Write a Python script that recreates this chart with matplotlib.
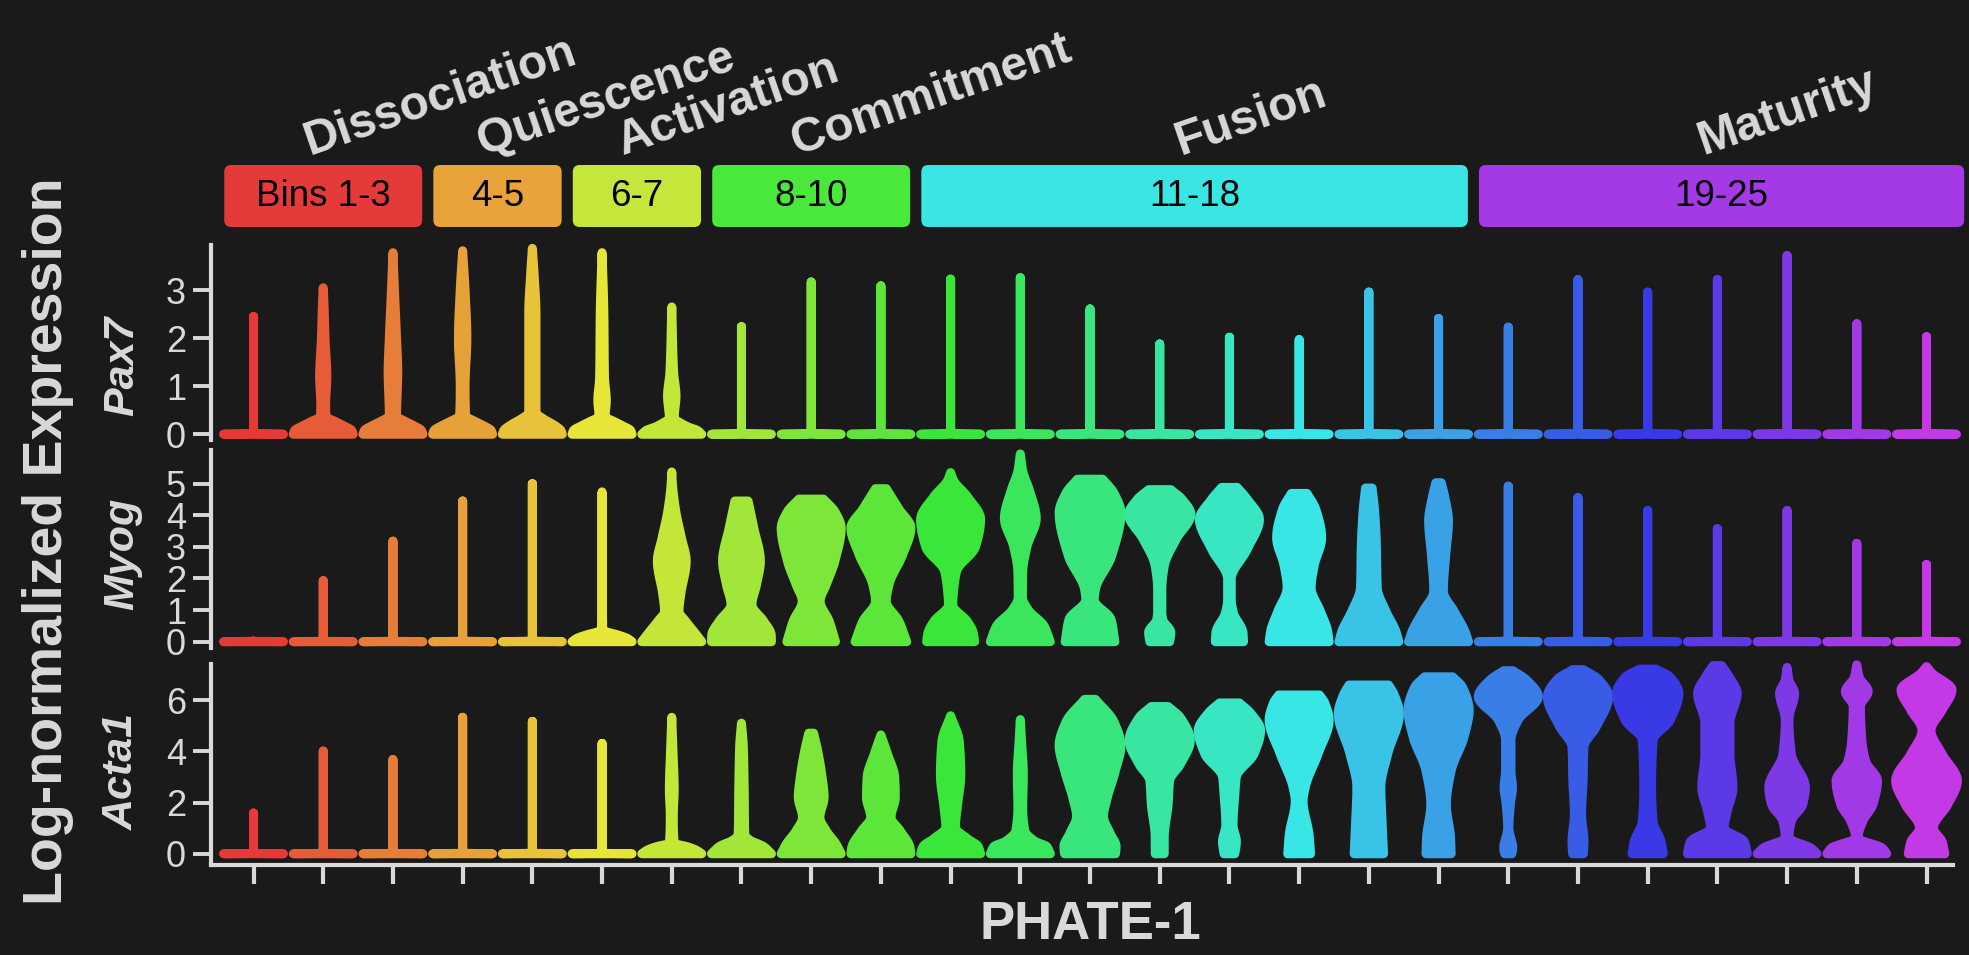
# Violin panels of Pax7 / Myog / Acta1 along PHATE-1 bins

import numpy as np
import matplotlib.pyplot as plt
import matplotlib.colors as mcolors
from matplotlib.patches import Polygon, FancyBboxPatch

plt.rcParams['font.family'] = ['Liberation Sans', 'DejaVu Sans']

BG = '#1a1a1a'
FG = '#d9d9d9'

bins = list(range(1, 26))

# stage header
stages = ['Dissociation', 'Quiescence', 'Activation', 'Commitment', 'Fusion', 'Maturity']
stage_bins = [(1, 3), (4, 5), (6, 7), (8, 10), (11, 18), (19, 25)]
stage_text = ['Bins 1-3', '4-5', '6-7', '8-10', '11-18', '19-25']
stage_colors = ['#e53a3a', '#e8a33a', '#c5e63a', '#4ae83a', '#3ae6e3', '#a43ae6']

genes = ['Pax7', 'Myog', 'Acta1']
gene_ticks = [[0, 1, 2, 3], [0, 1, 2, 3, 4, 5], [0, 2, 4, 6]]

# max expression per bin (violin tops)
pax7_top = [2.45, 3.05, 3.78, 3.82, 3.87, 3.78, 2.65, 2.24, 3.17, 3.09, 3.23, 3.26, 2.61,
            1.88, 2.02, 1.97, 2.96, 2.41, 2.23, 3.22, 2.96, 3.22, 3.72, 2.30, 2.03]
myog_top = [0.0, 1.93, 3.18, 4.45, 5.00, 4.74, 5.37, 4.45, 4.51, 4.84, 5.35, 5.94, 5.14,
            4.81, 4.88, 4.69, 4.86, 5.03, 4.92, 4.56, 4.15, 3.57, 4.15, 3.11, 2.44]
acta1_top = [1.59, 4.01, 3.68, 5.33, 5.17, 4.31, 5.33, 5.10, 4.71, 4.64, 5.39, 5.24, 6.03,
             5.75, 5.89, 6.20, 6.59, 6.91, 7.15, 7.19, 7.21, 7.35, 7.28, 7.38, 7.31]

# density outlines (expression, relative half-width) for the bins that are not plain sticks
pax7_shape = {
    2: [(0, 1), (0.08, 0.95), (0.17, 0.7), (0.28, 0.35), (0.36, 0.1), (0.6, 0.08), (1.2, 0.12), (2.0, 0.06), (2.8, 0.02), (3.05, 0)],
    3: [(0, 1), (0.08, 0.95), (0.17, 0.72), (0.28, 0.37), (0.38, 0.12), (1.3, 0.16), (2.0, 0.12), (3.0, 0.05), (3.78, 0)],
    4: [(0, 1), (0.08, 0.95), (0.17, 0.72), (0.28, 0.37), (0.38, 0.1), (1.0, 0.08), (2.0, 0.14), (3.0, 0.08), (3.82, 0)],
    5: [(0, 1), (0.08, 0.95), (0.2, 0.7), (0.32, 0.37), (0.45, 0.12), (1.5, 0.12), (2.5, 0.12), (3.3, 0.06), (3.87, 0)],
    6: [(0, 1), (0.08, 0.95), (0.17, 0.7), (0.28, 0.35), (0.36, 0.1), (0.7, 0.14), (1.2, 0.08), (2.5, 0.06), (3.78, 0)],
    7: [(0, 1), (0.08, 0.85), (0.15, 0.55), (0.25, 0.25), (0.32, 0.08), (0.8, 0.14), (1.3, 0.06), (2.65, 0)],
}
myog_shape = {
    6: [(0, 1), (0.1, 0.85), (0.22, 0.5), (0.32, 0.12), (0.38, 0.02), (4.74, 0)],
    7: [(0, 1), (0.33, 0.73), (0.65, 0.46), (0.96, 0.24), (1.5, 0.3), (2.55, 0.48), (3.29, 0.32), (4.14, 0.13), (5.0, 0.02), (5.37, 0)],
    8: [(0, 1), (0.22, 0.99), (0.65, 0.74), (1.17, 0.35), (1.8, 0.5), (2.55, 0.63), (3.6, 0.41), (4.45, 0.22)],
    9: [(0, 0.81), (0.65, 0.6), (1.28, 0.3), (1.8, 0.5), (2.55, 0.79), (3.6, 1.0), (4.1, 0.8), (4.51, 0.41)],
    10: [(0, 0.86), (0.65, 0.6), (1.28, 0.18), (1.8, 0.27), (2.76, 0.73), (3.6, 1.0), (4.2, 0.6), (4.84, 0.18)],
    11: [(0, 0.8), (0.3, 0.75), (0.65, 0.55), (1.17, 0.07), (1.6, 0.1), (2.23, 0.2), (3.0, 0.83), (3.87, 1.0), (4.6, 0.55), (5.1, 0.1), (5.35, 0)],
    12: [(0, 1.0), (0.5, 0.79), (1.0, 0.27), (1.4, 0.07), (2.2, 0.08), (3.0, 0.22), (3.9, 0.53), (4.8, 0.3), (5.4, 0.08), (5.94, 0)],
    13: [(0, 0.83), (0.7, 0.7), (1.33, 0.14), (1.65, 0.18), (2.71, 0.72), (4.08, 1.03), (4.7, 0.8), (5.14, 0.42)],
    14: [(0, 0.33), (0.29, 0.37), (0.7, 0.1), (0.92, 0.07), (1.65, 0.07), (2.39, 0.15), (3.24, 0.55), (4.03, 1.04), (4.5, 0.75), (4.81, 0.37)],
    15: [(0, 0.47), (0.29, 0.45), (0.92, 0.13), (1.33, 0.06), (1.97, 0.06), (2.92, 0.59), (3.87, 1.0), (4.5, 0.6), (4.88, 0.26)],
    16: [(0, 1.0), (0.33, 0.95), (0.96, 0.71), (1.71, 0.4), (2.4, 0.5), (3.29, 0.75), (4.2, 0.55), (4.69, 0.26)],
    17: [(0, 1.0), (0.33, 0.9), (0.96, 0.57), (1.71, 0.28), (3.08, 0.25), (4.14, 0.19), (4.86, 0.11)],
    18: [(0, 1.0), (0.33, 0.88), (0.96, 0.52), (1.6, 0.16), (2.76, 0.24), (3.82, 0.33), (4.6, 0.2), (5.03, 0.09)],
}
acta1_shape = {
    7: [(0, 1), (0.15, 0.8), (0.28, 0.5), (0.41, 0.08), (1.5, 0.05), (2.5, 0.08), (4.0, 0.04), (5.33, 0)],
    8: [(0, 1), (0.28, 0.74), (0.54, 0.27), (0.74, 0.11), (2.5, 0.09), (4.2, 0.06), (5.1, 0)],
    9: [(0, 1), (0.38, 0.83), (0.9, 0.5), (1.42, 0.29), (2.2, 0.43), (3.1, 0.35), (4.0, 0.22), (4.71, 0.08)],
    10: [(0, 1), (0.25, 0.97), (0.9, 0.64), (1.42, 0.34), (2.2, 0.48), (2.98, 0.46), (3.9, 0.22), (4.64, 0)],
    11: [(0, 1), (0.28, 0.92), (0.6, 0.55), (1.03, 0.16), (1.8, 0.22), (3.1, 0.34), (4.38, 0.29), (5.39, 0)],
    12: [(0, 1), (0.28, 0.88), (0.48, 0.5), (0.9, 0.15), (1.8, 0.08), (3.1, 0.1), (4.4, 0.04), (5.24, 0)],
    13: [(0, 0.85), (0.28, 0.87), (0.8, 0.67), (1.46, 0.45), (2.12, 0.56), (3.18, 0.83), (4.23, 1.03), (5.15, 0.8), (6.03, 0.18)],
    14: [(0, 0.15), (0.62, 0.15), (1.93, 0.28), (2.85, 0.33), (3.5, 0.69), (4.43, 1.02), (5.3, 0.7), (5.75, 0.28)],
    15: [(0, 0.18), (0.47, 0.23), (1.13, 0.12), (2.32, 0.18), (3.0, 0.23), (3.9, 0.82), (4.82, 1.04), (5.5, 0.7), (5.89, 0.33)],
    16: [(0, 0.38), (0.74, 0.33), (2.06, 0.13), (2.58, 0.2), (3.9, 0.63), (5.22, 1.0), (5.9, 0.85), (6.2, 0.68)],
    17: [(0, 0.49), (1.27, 0.44), (2.59, 0.4), (3.9, 0.63), (5.48, 1.02), (6.2, 0.85), (6.59, 0.66)],
    18: [(0, 0.42), (0.62, 0.4), (1.93, 0.26), (3.24, 0.42), (4.57, 0.85), (5.61, 1.02), (6.5, 0.8), (6.91, 0.47)],
    19: [(0, 0.12), (0.22, 0.15), (1.0, 0.02), (1.93, 0.07), (2.59, 0.14), (3.24, 0.09), (4.43, 0.09), (5.22, 0.33), (6.14, 1.0), (6.8, 0.6), (7.15, 0.15)],
    20: [(0, 0.18), (0.47, 0.2), (1.53, 0.12), (2.85, 0.17), (4.17, 0.2), (4.96, 0.61), (6.14, 1.02), (6.8, 0.7), (7.19, 0.18)],
    21: [(0, 0.52), (0.47, 0.45), (1.27, 0.18), (2.59, 0.13), (4.43, 0.18), (5.22, 0.75), (6.27, 1.04), (6.9, 0.75), (7.21, 0.28)],
    22: [(0, 1.0), (0.47, 0.9), (1.0, 0.23), (1.66, 0.33), (2.59, 0.52), (3.9, 0.42), (5.09, 0.42), (6.27, 0.66), (6.9, 0.4), (7.35, 0.14)],
    23: [(0, 1.0), (0.22, 0.8), (0.62, 0.06), (1.27, 0.14), (1.93, 0.52), (2.59, 0.61), (3.9, 0.14), (5.22, 0.06), (6.27, 0.25), (6.8, 0.06), (7.28, 0)],
    24: [(0, 1.0), (0.22, 0.85), (0.62, 0.04), (1.27, 0.2), (1.93, 0.54), (2.85, 0.69), (3.6, 0.3), (4.43, 0.17), (5.75, 0.12), (6.34, 0.38), (6.9, 0.08), (7.38, 0)],
    25: [(0, 0.61), (0.47, 0.52), (1.0, 0.23), (1.93, 0.71), (2.85, 1.03), (3.9, 0.52), (4.82, 0.15), (5.61, 0.52), (6.4, 0.85), (7.06, 0.18), (7.31, 0)],
}

tops = [pax7_top, myog_top, acta1_top]
shapes = [pax7_shape, myog_shape, acta1_shape]


def pchip(xk, yk, x):
    xk = np.asarray(xk, float)
    yk = np.asarray(yk, float)
    n = len(xk)
    h = np.diff(xk)
    d = np.diff(yk) / h
    m = np.zeros(n)
    m[0], m[-1] = d[0], d[-1]
    for k in range(1, n - 1):
        if d[k - 1] * d[k] > 0:
            w1 = 2 * h[k] + h[k - 1]
            w2 = h[k] + 2 * h[k - 1]
            m[k] = (w1 + w2) / (w1 / d[k - 1] + w2 / d[k])
    i = np.clip(np.searchsorted(xk, x) - 1, 0, n - 2)
    t = (x - xk[i]) / h[i]
    return ((2 * t**3 - 3 * t**2 + 1) * yk[i] + (t**3 - 2 * t**2 + t) * h[i] * m[i]
            + (-2 * t**3 + 3 * t**2) * yk[i + 1] + (t**3 - t**2) * h[i] * m[i + 1])


def draw_violin(ax, x, knots, color, half=0.43):
    ky = [k[0] for k in knots]
    y = np.linspace(0, ky[-1], 300)
    w = np.clip(pchip(ky, [k[1] for k in knots], y), 0, None) * half
    verts = np.concatenate([np.column_stack([x + w, y]),
                            np.column_stack([x - w[::-1], y[::-1]])])
    ax.add_patch(Polygon(verts, closed=True, facecolor=color, edgecolor=color,
                         linewidth=6.5, joinstyle='round', clip_on=False))


colors = [mcolors.hsv_to_rgb((i * 12 / 360, 0.75, 0.9)) for i in range(25)]

fig = plt.figure(figsize=(19.69, 9.55), dpi=100, facecolor=BG)
W, H = 1969, 955
left, width = 211 / W, (1953 - 211) / W
xlim = (0.39, 25.38)

# panel extents in pixels (top, bottom) and y-limits
panel_px = [(245, 440), (449.5, 648), (664.3, 865)]
ylims = [(-0.12, 3.94), (-0.2, 6.08), (-0.44, 7.4)]
label_y = [366, 554, 771]

for g in range(3):
    top_px, bot_px = panel_px[g]
    ax = fig.add_axes([left, 1 - bot_px / H, width, (bot_px - top_px) / H])
    ax.set_facecolor(BG)
    ax.set_xlim(*xlim)
    ax.set_ylim(*ylims[g])
    for b in bins:
        knots = shapes[g].get(b)
        if knots is None:
            t = max(tops[g][b - 1], 0.02)
            knots = [(0, 1), (0.015, 0), (t, 0)]
        draw_violin(ax, b, knots, colors[b - 1])
    for s in ['top', 'right']:
        ax.spines[s].set_visible(False)
    ax.spines['left'].set_color(FG)
    ax.spines['left'].set_linewidth(3)
    ax.set_yticks(gene_ticks[g])
    ax.tick_params(axis='y', colors=FG, labelsize=26, length=13, width=2.8, pad=5)
    if g < 2:
        ax.spines['bottom'].set_visible(False)
        ax.set_xticks([])
    else:
        ax.spines['bottom'].set_color(FG)
        ax.spines['bottom'].set_linewidth(3)
        ax.set_xticks(bins)
        ax.set_xticklabels([])
        ax.tick_params(axis='x', colors=FG, length=14, width=3)
    fig.text(122 / W, 1 - label_y[g] / H, genes[g], rotation=90, ha='center', va='center',
             fontsize=31, fontweight='bold', fontstyle='italic', color=FG)

# header with stage boxes and rotated stage names
hax = fig.add_axes([left, 1 - 227 / H, width, 62 / H])
hax.set_xlim(*xlim)
hax.set_ylim(0, 1)
hax.axis('off')
aspect = (1742 / (xlim[1] - xlim[0])) / 62
for name, (b0, b1), txt, col in zip(stages, stage_bins, stage_text, stage_colors):
    x0, x1 = b0 - 0.42, b1 + 0.42
    if b1 == bins[-1]:
        x1 = b1 + 0.54
    hax.add_patch(FancyBboxPatch((x0, 0), x1 - x0, 1,
                                 boxstyle='round,pad=0,rounding_size=0.1',
                                 mutation_aspect=aspect, facecolor=col,
                                 edgecolor='none', clip_on=False))
    hax.text((x0 + x1) / 2, 0.5, txt, ha='center', va='center', fontsize=26.5, color='black')
    hax.text((b0 + b1) / 2 - 0.2, (227 - 155) / 62, name, rotation=19,
             rotation_mode='anchor', ha='left', va='baseline', fontsize=34.5,
             fontweight='bold', color=FG)

fig.text(48 / W, 1 - 541 / H, 'Log-normalized Expression', rotation=90, ha='center',
         va='center', fontsize=40, fontweight='bold', color=FG)
fig.text(1090 / W, 1 - 925 / H, 'PHATE-1', ha='center', va='center', fontsize=38,
         fontweight='bold', color=FG)

fig.savefig('out.png', dpi=100, facecolor=BG)
